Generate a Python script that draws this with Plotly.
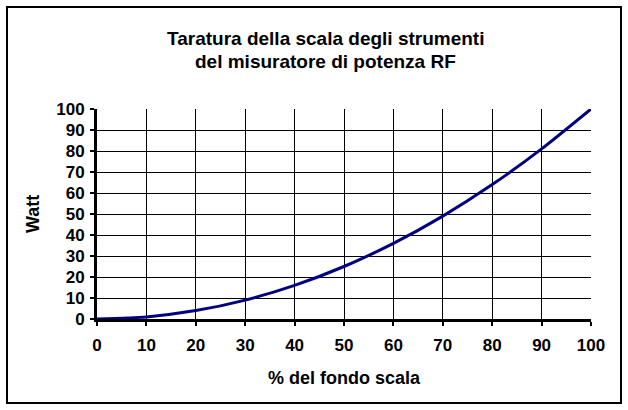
import plotly.graph_objects as go

percent_fondo_scala = [0, 10, 20, 30, 40, 50, 60, 70, 80, 90, 100]
watt = [0, 1, 4, 9, 16, 25, 36, 49, 64, 81, 100]
tick_vals = [0, 10, 20, 30, 40, 50, 60, 70, 80, 90, 100]

W, H = 628, 410
L, R, T, B = 97, 591, 109, 319
pw, ph = R - L, B - T

def px(x):
    return (x - L) / pw

def py(y):
    return (B - y) / ph

font_family = "Liberation Sans, Arial, sans-serif"

fig = go.Figure()
fig.add_trace(go.Scatter(
    x=percent_fondo_scala, y=watt, mode="lines",
    line=dict(color="#000080", width=3, shape="spline", smoothing=0.6),
    hoverinfo="x+y", showlegend=False,
))

axis_common = dict(
    showgrid=True, gridcolor="black", gridwidth=1,
    zeroline=False, ticks="outside", ticklen=4, tickwidth=2, tickcolor="black",
    tickfont=dict(family=font_family, size=17, color="black", weight="bold"),
    tickvals=tick_vals, range=[0, 100], fixedrange=True,
)

fig.update_xaxes(**axis_common, showline=True, linecolor="black", linewidth=3,
                 ticklabelstandoff=5)
fig.update_yaxes(**axis_common, showline=True, linecolor="black", linewidth=3,
                 ticklabelstandoff=2)

fig.update_layout(
    width=W, height=H,
    margin=dict(l=L, r=W - R, t=T, b=H - B, pad=0),
    paper_bgcolor="white", plot_bgcolor="white",
    shapes=[dict(type="rect", xref="paper", yref="paper",
                 x0=px(7), x1=px(621), y0=py(403), y1=py(7),
                 line=dict(color="black", width=2), fillcolor="rgba(0,0,0,0)", layer="below")],
    annotations=[
        dict(text="<b>Taratura della scala degli strumenti</b>", xref="paper", yref="paper",
             x=px(325), y=py(38), xanchor="center", yanchor="middle", showarrow=False,
             font=dict(family=font_family, size=19, color="black")),
        dict(text="<b>del misuratore di potenza RF</b>", xref="paper", yref="paper",
             x=px(325), y=py(62), xanchor="center", yanchor="middle", showarrow=False,
             font=dict(family=font_family, size=19, color="black")),
        dict(text="<b>% del fondo scala</b>", xref="paper", yref="paper",
             x=px(344), y=py(378), xanchor="center", yanchor="middle", showarrow=False,
             font=dict(family=font_family, size=18, color="black")),
        dict(text="<b>Watt</b>", xref="paper", yref="paper", textangle=-90,
             x=px(33), y=py(214), xanchor="center", yanchor="middle", showarrow=False,
             font=dict(family=font_family, size=18, color="black")),
    ],
)

fig.write_html("out.html", config={"displayModeBar": False},
               post_script="document.body.style.margin='0px';")
